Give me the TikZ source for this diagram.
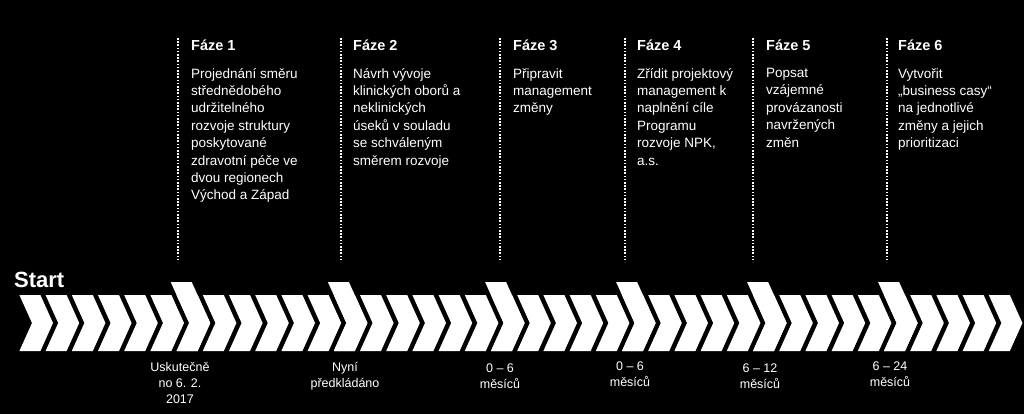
\documentclass[tikz,border=0pt]{standalone}
\usepackage{fontspec}
\setmainfont{Liberation Sans}
\begin{document}
\begin{tikzpicture}[x=1pt,y=-1pt,
  phasehead/.style={text=white,font=\fontsize{14.5}{17}\selectfont\bfseries,inner sep=0pt,anchor=west},
  phasetext/.style={text=white,font=\fontsize{13.5}{17.4}\selectfont,inner sep=0pt,anchor=north west,align=left},
  timelabel/.style={text=white,font=\fontsize{12.5}{16}\selectfont,inner sep=0pt,anchor=north,align=center},
  phaseline/.style={white,line width=1.8pt,dash pattern=on 1.6pt off 1.6pt}]
\fill[black] (0,0) rectangle (1024,414);
\useasboundingbox (0,0) rectangle (1024,414);
\foreach \k in {0,...,37}{
  \pgfmathsetmacro{\xn}{32+26.2*\k}
  \fill[white] (\xn-12.6,295) -- (\xn,323) -- (\xn-12.6,351) -- (\xn+8.4,351) -- (\xn+21,323) -- (\xn+8.4,295) -- cycle;
}
\foreach \k in {6,12,18,23,28,33}{
  \pgfmathsetmacro{\xn}{32+26.2*\k}
  \fill[white] (\xn-18.5,282) -- (\xn,323) -- (\xn-12.6,351) -- (\xn+8.4,351) -- (\xn+21,323) -- (\xn+2.5,282) -- cycle;
}
\node[text=white,font=\fontsize{22}{22}\selectfont\bfseries,inner sep=0pt,anchor=west] (start) at (14,280) {Start};
\foreach \x/\n in {178/1,341/2,500/3,625/4,753/5,887/6}{
  \coordinate (top\n) at (\x,38);
  \coordinate (bot\n) at (\x,262);
  \draw[phaseline] (top\n) -- (bot\n);
}
\node[phasehead] (head1) at (191,45) {Fáze 1};
\node[phasehead] (head2) at (353,45) {Fáze 2};
\node[phasehead] (head3) at (513,45) {Fáze 3};
\node[phasehead] (head4) at (637,45) {Fáze 4};
\node[phasehead] (head5) at (766,45) {Fáze 5};
\node[phasehead] (head6) at (898,45) {Fáze 6};
\node[phasetext] (text1) at (191,68) {Projednání směru\\střednědobého\\udržitelného\\rozvoje struktury\\poskytované\\zdravotní péče ve\\dvou regionech\\Východ a Západ};
\node[phasetext] (text2) at (353,68) {Návrh vývoje\\klinických oborů a\\neklinických\\úseků v souladu\\se schváleným\\směrem rozvoje};
\node[phasetext] (text3) at (513,68) {Připravit\\management\\změny};
\node[phasetext] (text4) at (637,68) {Zřídit projektový\\management k\\naplnění cíle\\Programu\\rozvoje NPK,\\a.s.};
\node[phasetext] (text5) at (766,68) {Popsat\\vzájemné\\provázanosti\\navržených\\změn};
\node[phasetext] (text6) at (898,68) {Vytvořit\\„business casy“\\na jednotlivé\\změny a jejich\\prioritizaci};
\node[timelabel] (time1) at (180,362) {Uskutečně\\no 6. 2.\\2017};
\node[timelabel] (time2) at (345,362) {Nyní\\předkládáno};
\node[timelabel] (time3) at (500,364) {0 – 6\\měsíců};
\node[timelabel] (time4) at (630,362) {0 – 6\\měsíců};
\node[timelabel] (time5) at (760,364) {6 – 12\\měsíců};
\node[timelabel] (time6) at (890,362) {6 – 24\\měsíců};
\end{tikzpicture}
\end{document}
